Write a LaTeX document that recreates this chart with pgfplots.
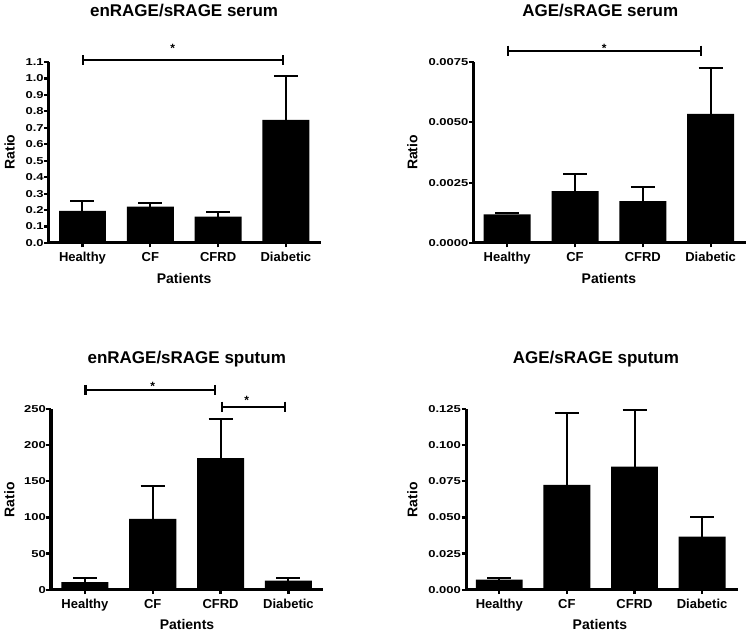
\documentclass[border=0pt]{standalone}
\usepackage{fontspec}
\setmainfont{Liberation Sans}
\newfontfamily\numfont[FakeStretch=1.3]{Liberation Sans}
\usepackage{pgfplots}
\pgfplotsset{compat=1.18}
\tikzset{sigstar/.style={font=\bfseries\fontsize{12bp}{14bp}\selectfont, anchor=base, inner sep=0pt}}
\pgfplotsset{
 panel/.style={
  scale only axis, axis lines=left, axis line style={-, line width=3bp, black},
  clip=false, xtick={0,1,2,3}, xticklabels={Healthy,CF,CFRD,Diabetic},
  tick align=outside, major tick length=4.5bp, tick style={line width=2.2bp, black},
  ymin=0, scaled y ticks=false, xmin=-0.5, xmax=3.52,
  /pgf/number format/assume math mode=true,
  yticklabel style={font=\numfont\bfseries\fontsize{10bp}{12bp}\selectfont, inner sep=0.5bp},
  xticklabel style={font=\bfseries\fontsize{13bp}{15bp}\selectfont, anchor=base, yshift=-14.4bp},
  every axis title/.style={font=\bfseries\fontsize{17bp}{20bp}\selectfont, anchor=base},
  xlabel style={font=\bfseries\fontsize{14bp}{17bp}\selectfont, anchor=base},
  ylabel style={font=\bfseries\fontsize{14bp}{17bp}\selectfont, anchor=center},
  xlabel={Patients}, ylabel={Ratio},
 },
 bars/.style={ybar, bar width=0.693, fill=black, draw=none,
  error bars/.cd, y dir=plus, y explicit,
  error bar style={line width=2bp, black},
  error mark options={line width=2bp, mark size=12bp, black, rotate=90}},
 sig/.style={black, line width=2.2bp, mark=|, mark size=5bp, mark options={line width=2.2bp, solid}},
}
\begin{document}
\begin{tikzpicture}
\useasboundingbox (0,0) rectangle (750bp,635bp);
% Panel 1
\begin{axis}[panel, at={(48.8bp,392bp)}, anchor=south west, width=272.2bp, height=181bp,
  xmin=-0.497, xmax=3.518, ymax=1.1,
  ytick={0,0.1,0.2,0.3,0.4,0.5,0.6,0.7,0.8,0.9,1.0,1.1},
  yticklabel style={/pgf/number format/.cd, fixed, fixed zerofill, precision=1},
  title={enRAGE/sRAGE serum},
  title style={at={(axis description cs:0.497,1.254)}},
  xlabel style={at={(axis description cs:0.497,-0.2265)}},
  ylabel style={at={(axis description cs:-0.144,0.503)}}]
\addplot[bars] coordinates {(0,0.195) +- (0,0.06) (1,0.221) +- (0,0.02) (2,0.160) +- (0,0.03) (3,0.748) +- (0,0.265)};
\addplot[sig] coordinates {(0.007,1.110) (2.96,1.110)};
\node[sigstar] at (axis cs:1.33,1.155) {*};
\end{axis}
% Panel 2
\begin{axis}[panel, at={(473.5bp,392bp)}, anchor=south west, width=272.5bp, height=181bp,
  xmin=-0.497, xmax=3.522, ymax=0.0075,
  ytick={0,0.0025,0.005,0.0075},
  yticklabel style={/pgf/number format/.cd, fixed, fixed zerofill, precision=4},
  title={AGE/sRAGE serum},
  title style={at={(axis description cs:0.465,1.254)}},
  xlabel style={at={(axis description cs:0.497,-0.2226)}},
  ylabel style={at={(axis description cs:-0.224,0.5)}}]
\addplot[bars] coordinates {(0,0.00119) +- (0,0.00007) (1,0.00215) +- (0,0.0007) (2,0.00174) +- (0,0.00057) (3,0.00535) +- (0,0.00191)};
\addplot[sig] coordinates {(0.007,0.00797) (2.86,0.00797)};
\node[sigstar] at (axis cs:1.43,0.00791) {*};
\end{axis}
% Panel 3
\begin{axis}[panel, at={(51bp,45.3bp)}, anchor=south west, width=272bp, height=180.5bp,
  xmin=-0.50, xmax=3.51, ymax=250,
  ytick={0,50,100,150,200,250},
  title={enRAGE/sRAGE sputum},
  title style={at={(axis description cs:0.499,1.251)}},
  xlabel style={at={(axis description cs:0.5,-0.221)}},
  ylabel style={at={(axis description cs:-0.153,0.498)}}]
\addplot[bars] coordinates {(0,10.6) +- (0,5.6) (1,98.2) +- (0,45.7) (2,182.2) +- (0,53.9) (3,12.4) +- (0,3.8)};
\addplot[sig] coordinates {(0.01,276.7) (1.92,276.7)};
\addplot[sig] coordinates {(2.02,253.6) (2.95,253.6)};
\node[sigstar] at (axis cs:1.0,276.3) {*};
\node[sigstar] at (axis cs:2.385,256.9) {*};
\end{axis}
% Panel 4
\begin{axis}[panel, at={(466bp,45.3bp)}, anchor=south west, width=271.7bp, height=180.5bp,
  xmin=-0.493, xmax=3.527, ymax=0.125,
  ytick={0,0.025,0.05,0.075,0.1,0.125},
  yticklabel style={/pgf/number format/.cd, fixed, fixed zerofill, precision=3},
  title={AGE/sRAGE sputum},
  title style={at={(axis description cs:0.478,1.251)}},
  xlabel style={at={(axis description cs:0.493,-0.221)}},
  ylabel style={at={(axis description cs:-0.197,0.498)}}]
\addplot[bars] coordinates {(0,0.0069) +- (0,0.0012) (1,0.0726) +- (0,0.0501) (2,0.0853) +- (0,0.0393) (3,0.0367) +- (0,0.0133)};
\end{axis}
\end{tikzpicture}
\end{document}
